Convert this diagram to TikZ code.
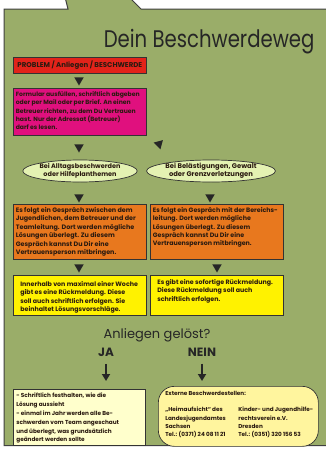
\documentclass[tikz,border=0pt]{standalone}
\usepackage{graphicx}
\usepackage{fontspec}
\setmainfont{Poppins}
\usetikzlibrary{shapes.geometric,arrows.meta}
\definecolor{panel}{HTML}{9AAD69}
\definecolor{redc}{HTML}{E2231A}
\definecolor{pinkc}{HTML}{E0107E}
\definecolor{ellc}{HTML}{E4F2B2}
\definecolor{orangec}{HTML}{E8781E}
\definecolor{yellowc}{HTML}{FFF200}
\definecolor{paleyel}{HTML}{FFFFCC}
\definecolor{extyel}{HTML}{FFF59E}
\definecolor{txt}{HTML}{2A1A10}
\newcommand{\fs}[2]{\bfseries\fontsize{#1}{#2}\selectfont}
\newcommand{\bt}[4]{\parbox[t][#2pt][t]{#1pt}{\vspace*{#3pt}\raggedright #4}}
\tikzset{
  rect/.style={draw=black!80, line width=0.7pt, anchor=north west, inner xsep=2.5pt, inner ysep=0pt, text=txt},
  ell/.style={ellipse, draw=black!80, line width=0.7pt, fill=ellc, minimum width=100pt, minimum height=22pt, inner sep=0pt, align=center, text=txt, font=\fs{6.5}{8}},
  tri/.style={regular polygon, regular polygon sides=3, shape border rotate=180, fill=black!85, minimum size=11pt, inner sep=0pt},
  bigarrow/.style={line width=1.8pt, draw=black!85, -{Triangle[length=7pt,width=8pt]}},
}
\begin{document}
\begin{tikzpicture}[x=1pt,y=-1pt]
\useasboundingbox (0,0) rectangle (326,450);
\clip (0,0) rectangle (326,450);
\fill[white] (0,0) rectangle (326,450);
\draw[draw=black!75, line width=1pt, fill=panel] (4,445.5) -- (4,9) -- (68,9) -- (65,-3) -- (129,-3) -- (141,9) -- (330,9) -- (330,445.5) -- cycle;

\node[anchor=base east, text=black!85, font=\fontsize{24}{24}\selectfont] (title) at (318,47) {\scalebox{0.82}[1]{Dein Beschwerdeweg}};

\node[rect, fill=redc, minimum width=133pt, minimum height=16pt, align=center, font=\fs{7}{8}] (prob) at (13,57) {PROBLEM / Anliegen / BESCHWERDE};
\node[tri] (t1) at (79,80) {};

\node[rect, fill=pinkc, font=\fs{6.1}{8.4}] (form) at (13,88) {\bt{128}{47}{3}{Formular ausfüllen, schriftlich abgeben\\oder per Mail oder per Brief. An einen\\Betreuer richten, zu dem Du Vertrauen\\hast. Nur der Adressat (Betreuer)\\darf es lesen.}};

\node[tri] (t2) at (79,147) {};
\node[tri, shape border rotate=75] (t3) at (159,144) {};

\node[ell] (e1) at (80,171) {Bei Alltagsbeschwerden\\oder Hilfeplanthemen};
\node[ell, minimum width=111pt, font=\fs{6.8}{8}] (e2) at (211,171) {Bei Belästigungen, Gewalt\\oder Grenzverletzungen};

\node[tri] (t4) at (79,197) {};
\node[tri] (t5) at (210,197) {};

\node[rect, fill=orangec, font=\fs{6.4}{8.4}] (o1) at (13,204) {\bt{128}{55}{3}{Es folgt ein Gespräch zwischen dem\\Jugendlichen, dem Betreuer und der\\Teamleitung. Dort werden mögliche\\Lösungen überlegt. Zu diesem\\Gespräch kannst Du Dir eine\\Vertrauensperson mitbringen.}};
\node[rect, fill=orangec, font=\fs{6.3}{8.4}] (o2) at (150,204) {\bt{128}{55}{3}{Es folgt ein Gespräch mit der Bereichs-\\leitung. Dort werden mögliche\\Lösungen überlegt. Zu diesem\\Gespräch kannst Du Dir eine\\Vertrauensperson mitbringen.}};

\node[tri] (t6) at (79,267) {};
\node[tri] (t7) at (217,267) {};

\node[rect, fill=yellowc, inner xsep=0pt, font=\fs{6.3}{8.4}] (y1) at (13,275) {\hspace{7pt}\bt{126}{40}{6}{Innerhalb von maximal einer Woche\\gibt es eine Rückmeldung. Diese\\soll auch schriftlich erfolgen. Sie\\beinhaltet Lösungsvorschläge.}};
\node[rect, fill=yellowc, inner xsep=0pt, font=\fs{6.3}{8.4}] (y2) at (150,275) {\hspace{7pt}\bt{126}{40}{4}{Es gibt eine sofortige Rückmeldung.\\Diese Rückmeldung soll auch\\schriftlich erfolgen.}};

\node[text=black!85, font=\fontsize{13}{13}\selectfont] (q) at (157,335) {Anliegen gelöst?};
\node[text=black!85, font=\bfseries\fontsize{12}{12}\selectfont] (ja) at (106,352) {JA};
\node[text=black!85, font=\bfseries\fontsize{12}{12}\selectfont] (nein) at (202,352) {NEIN};
\coordinate (jaend) at (106,381);
\coordinate (neinend) at (202,381);
\draw[bigarrow] (ja.south -| jaend) ++(0,4) -- (jaend);
\draw[bigarrow] (nein.south -| neinend) ++(0,4) -- (neinend);

\node[rect, fill=paleyel, inner xsep=0pt, font=\fs{5.75}{8.8}] (jbox) at (13,389) {\hspace{3pt}\bt{129}{56}{4}{%
\hangindent=3.5pt\hangafter=1 - Schriftlich festhalten, wie die\\Lösung aussieht\par
\hangindent=3.5pt\hangafter=1 - einmal im Jahr werden alle Be-\\schwerden vom Team angeschaut\\und überlegt, was grundsätzlich\\geändert werden sollte}};

\node[rect, fill=extyel, rounded corners=16pt, inner xsep=0pt, font=\fs{5.7}{8.2}] (ext) at (158,386) {\hspace{7pt}\bt{153}{60}{5}{Externe Beschwerdestellen:\\[8.2pt]%
\parbox[t]{73pt}{\raggedright „Heimaufsicht“ des\\Landesjugendamtes\\Sachsen\\Tel.: (0371) 24 08 11 21}%
\parbox[t]{78pt}{\raggedright Kinder- und Jugendhilfe-\\rechtsverein e.V.\\Dresden\\Tel.: (0351) 320 156 53}}};
\end{tikzpicture}
\end{document}
